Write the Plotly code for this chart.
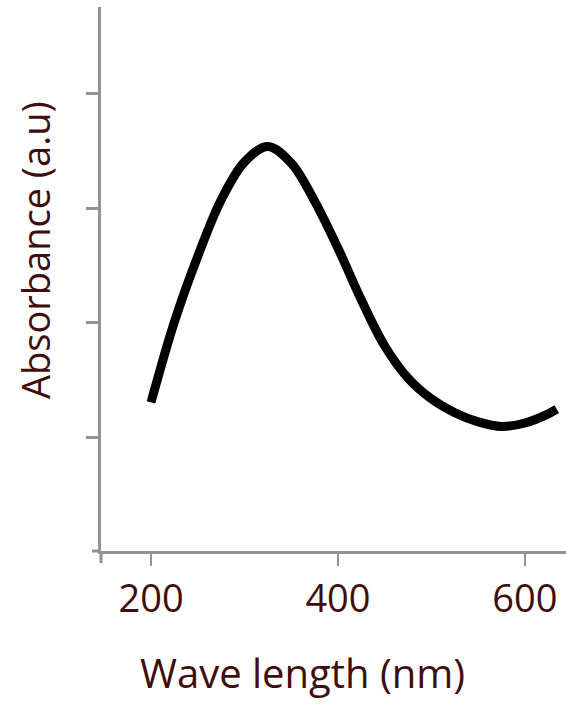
import plotly.graph_objects as go

wavelength = [200, 225, 250, 275, 300, 325, 350, 375, 400, 425, 450, 475, 500, 525, 550, 575, 600, 625, 634]
absorbance = [1.31, 2.01, 2.58, 3.07, 3.40, 3.535, 3.39, 3.06, 2.65, 2.20, 1.80, 1.52, 1.34, 1.22, 1.14, 1.10, 1.13, 1.21, 1.25]
x_ticks = [200, 400, 600]
x_tick_labels = ["200", "400", "600"]
y_ticks = [1, 2, 3, 4]

text_color = "#400d0d"
axis_color = "#929292"
font_family = "Open Sans"

fig = go.Figure()
fig.add_trace(go.Scatter(
    x=wavelength, y=absorbance, mode="lines",
    line=dict(color="black", width=9, shape="spline", smoothing=1),
    showlegend=False, hoverinfo="skip",
))

fig.update_layout(
    width=566, height=708,
    margin=dict(l=101, r=0, t=7, b=157),
    paper_bgcolor="white", plot_bgcolor="white",
    font=dict(family=font_family, color=text_color),
    xaxis=dict(
        range=[146.5, 643.9], showgrid=False, zeroline=False,
        showline=True, linecolor=axis_color, linewidth=3,
        ticks="outside", ticklen=12, tickwidth=2, tickcolor=axis_color,
        tickvals=x_ticks, ticktext=x_tick_labels,
        tickfont=dict(size=38, color=text_color, family=font_family),
    ),
    yaxis=dict(
        range=[0.017, 4.748], showgrid=False, zeroline=False,
        showline=True, linecolor=axis_color, linewidth=3,
        ticks="outside", ticklen=12, tickwidth=3, tickcolor=axis_color,
        tickvals=y_ticks, showticklabels=False,
    ),
    shapes=[
        dict(type="line", xref="paper", yref="paper", x0=0, x1=0, y0=0, y1=-12/544,
             line=dict(color=axis_color, width=3)),
        dict(type="line", xref="paper", yref="paper", x0=-9/465, x1=0, y0=0, y1=0,
             line=dict(color=axis_color, width=3)),
    ],
    annotations=[
        dict(text="Wave length (nm)", xref="paper", yref="paper",
             x=(302 - 101) / 465, y=-(672 - 551) / 544, xanchor="center", yanchor="middle",
             showarrow=False, font=dict(size=40, color=text_color, family=font_family)),
        dict(text="Absorbance (a.u)", xref="paper", yref="paper",
             x=-(101 - 35) / 465, y=(551 - 250) / 544, xanchor="center", yanchor="middle",
             textangle=-90, showarrow=False,
             font=dict(size=38, color=text_color, family=font_family)),
    ],
)

fig.write_html("out.html", config={"displayModeBar": False},
               post_script="document.body.style.margin='0';")
